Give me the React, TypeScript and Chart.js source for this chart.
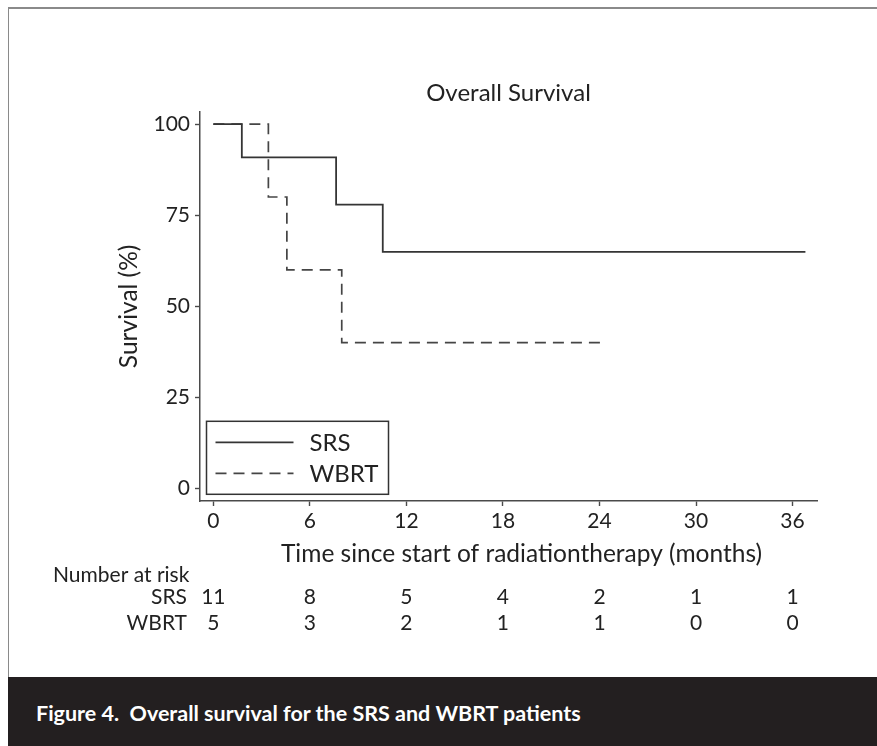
import React, { useEffect, useRef } from "react";
import { Chart, registerables } from "chart.js";

Chart.register(...registerables);

// ---- data ----
const srsTimes = [0, 1.77, 7.63, 10.53, 36.8];
const srsSurvival = [100, 90.9, 77.9, 64.9, 64.9];
const wbrtTimes = [0, 3.42, 4.57, 7.98, 24.05];
const wbrtSurvival = [100, 80, 60, 40, 40];
const xTickValues = [0, 6, 12, 18, 24, 30, 36];
const yTickValues = [0, 25, 50, 75, 100];
const seriesNames = ["SRS", "WBRT"];
const srsAtRisk = [11, 8, 5, 4, 2, 1, 1];
const wbrtAtRisk = [5, 3, 2, 1, 1, 0, 0];
const chartTitle = "Overall Survival";
const xTitle = "Time since start of radiationtherapy (months)";
const yTitle = "Survival (%)";
const riskTitle = "Number at risk";
const caption = "Figure 4.  Overall survival for the SRS and WBRT patients";

const FONT = "Lato, 'Open Sans', sans-serif";
const TEXT = "#222222";
const AXIS = "#4a4a4a";

const overlayPlugin = {
  id: "kmOverlay",
  afterDraw(chart: any) {
    const { ctx, chartArea, scales } = chart;
    const xs = scales.x;
    ctx.save();
    // x axis title (centred as in the original figure)
    ctx.fillStyle = TEXT;
    ctx.font = `24.5px ${FONT}`;
    ctx.textAlign = "center";
    ctx.textBaseline = "middle";
    ctx.fillText(xTitle, 512.5, 545);
    // legend box
    const bx = chartArea.left + 6.5;
    const by = chartArea.top + 309.5;
    const bw = 182;
    const bh = 73;
    ctx.strokeStyle = "#333333";
    ctx.lineWidth = 1.5;
    ctx.setLineDash([]);
    ctx.strokeRect(bx, by, bw, bh);
    const rowsY = [by + 21, by + 52];
    chart.data.datasets.forEach((ds: any, i: number) => {
      ctx.beginPath();
      ctx.strokeStyle = ds.borderColor;
      ctx.lineWidth = ds.borderWidth;
      ctx.setLineDash(ds.borderDash || []);
      ctx.moveTo(bx + 9, rowsY[i]);
      ctx.lineTo(bx + 87, rowsY[i]);
      ctx.stroke();
      ctx.setLineDash([]);
      ctx.fillStyle = TEXT;
      ctx.font = `24px ${FONT}`;
      ctx.textAlign = "left";
      ctx.textBaseline = "middle";
      ctx.fillText(ds.label, bx + 103, rowsY[i] + 1);
    });
    // number at risk table
    ctx.font = `21px ${FONT}`;
    ctx.fillStyle = TEXT;
    ctx.textBaseline = "alphabetic";
    ctx.textAlign = "left";
    ctx.fillText(riskTitle, 44, 573);
    const rows = [srsAtRisk, wbrtAtRisk];
    const baselines = [595, 621];
    rows.forEach((vals, r) => {
      ctx.textAlign = "right";
      ctx.fillText(seriesNames[r], 178, baselines[r]);
      ctx.textAlign = "center";
      vals.forEach((v, c) => {
        ctx.fillText(String(v), xs.getPixelForValue(xTickValues[c]), baselines[r]);
      });
    });
    ctx.restore();
  },
};

function KMChart() {
  const ref = useRef<HTMLCanvasElement | null>(null);
  useEffect(() => {
    if (!ref.current) return;
    const chart = new Chart(ref.current, {
      type: "line",
      data: {
        datasets: [
          {
            label: seriesNames[0],
            data: srsTimes.map((t, i) => ({ x: t, y: srsSurvival[i] })),
            borderColor: "#353535",
            borderWidth: 1.8,
            stepped: true,
            pointRadius: 0,
            fill: false,
          },
          {
            label: seriesNames[1],
            data: wbrtTimes.map((t, i) => ({ x: t, y: wbrtSurvival[i] })),
            borderColor: "#454545",
            borderWidth: 1.7,
            borderDash: [11, 7],
            stepped: true,
            pointRadius: 0,
            fill: false,
          },
        ],
      },
      options: {
        animation: false,
        responsive: true,
        maintainAspectRatio: false,
        layout: { padding: { left: 0, right: 60, top: 0, bottom: 109 } },
        plugins: {
          legend: { display: false },
          tooltip: { enabled: false },
          title: {
            display: true,
            text: chartTitle,
            color: TEXT,
            font: { family: FONT, size: 24, weight: "normal" },
            padding: { top: 70, bottom: 4 },
            fullSize: false,
          },
        },
        scales: {
          x: {
            type: "linear",
            min: -0.83,
            max: 37.52,
            afterBuildTicks: (s: any) => {
              s.ticks = xTickValues.map((v) => ({ value: v }));
            },
            afterFit: (s: any) => {
              s.height = 67;
            },
            ticks: {
              color: TEXT,
              font: { family: FONT, size: 21 },
              padding: 3,
              maxRotation: 0,
              autoSkip: false,
            },
            grid: {
              drawOnChartArea: false,
              drawTicks: true,
              tickLength: 5,
              tickColor: AXIS,
              tickWidth: 1.4,
            },
            border: { display: true, color: AXIS, width: 1.5 },
            title: { display: false, text: xTitle },
          },
          y: {
            type: "linear",
            min: -3.5,
            max: 103.4,
            afterBuildTicks: (s: any) => {
              s.ticks = yTickValues.map((v) => ({ value: v }));
            },
            afterFit: (s: any) => {
              s.width = 191;
            },
            ticks: {
              color: TEXT,
              font: { family: FONT, size: 21 },
              padding: 5,
              autoSkip: false,
            },
            grid: {
              drawOnChartArea: false,
              drawTicks: true,
              tickLength: 5,
              tickColor: AXIS,
              tickWidth: 1.4,
            },
            border: { display: true, color: AXIS, width: 1.5 },
            title: {
              display: true,
              text: yTitle,
              color: TEXT,
              font: { family: FONT, size: 24.5 },
              padding: { top: 105, bottom: 0 },
            },
          },
        },
      },
      plugins: [overlayPlugin],
    } as any);
    return () => chart.destroy();
  }, []);
  return <canvas ref={ref} />;
}

export default function App() {
  return (
    <div
      style={{
        position: "absolute",
        left: 0,
        top: 0,
        width: 877,
        height: 746,
        overflow: "hidden",
        background: "#ffffff",
      }}
    >
      <div style={{ position: "absolute", left: 8, top: 7, width: 869, height: 2, background: "#8a8a8a" }} />
      <div style={{ position: "absolute", left: 8, top: 7, width: 1, height: 670, background: "#8a8a8a" }} />
      <div style={{ position: "absolute", left: 9, top: 9, width: 868, height: 668 }}>
        <KMChart />
      </div>
      <div
        style={{
          position: "absolute",
          left: 8,
          top: 677,
          width: 869,
          height: 69,
          background: "#231f20",
        }}
      >
        <span
          style={{
            position: "absolute",
            left: 28,
            top: 26,
            whiteSpace: "pre",
            color: "#ffffff",
            fontFamily: "Lato, sans-serif",
            fontWeight: 700,
            fontSize: 21.5,
            lineHeight: "21px",
          }}
        >
          {caption}
        </span>
      </div>
    </div>
  );
}
